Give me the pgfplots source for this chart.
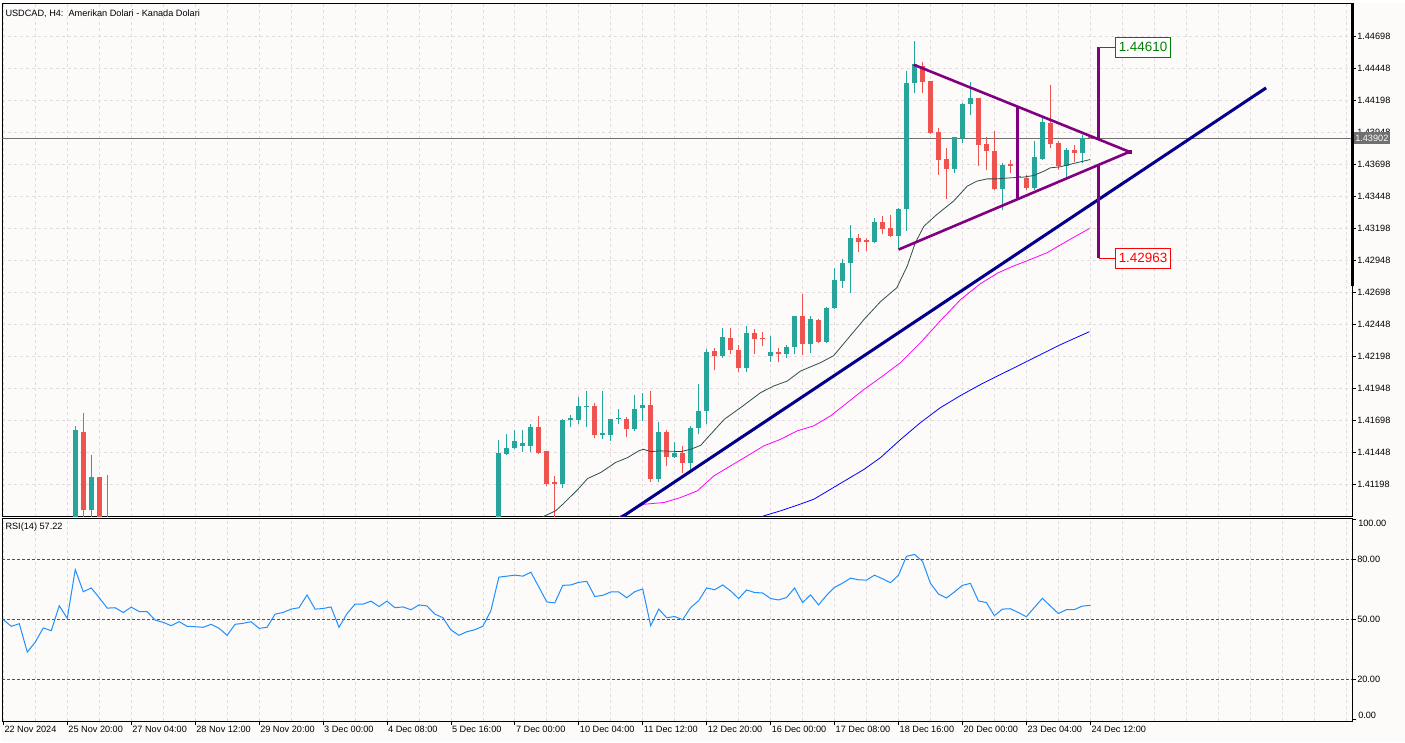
\documentclass[border=0pt]{standalone}
\usepackage{pgfplots}
\pgfplotsset{compat=1.18}
\usepackage{pgfplotstable}
\usepackage{fontspec}
\setmainfont{Liberation Sans}
\definecolor{bg}{RGB}{253,250,250}
\definecolor{bull}{RGB}{38,166,154}
\definecolor{bear}{RGB}{239,83,80}
\definecolor{gridc}{RGB}{226,220,220}
\definecolor{maA}{RGB}{47,79,79}
\definecolor{maB}{RGB}{255,0,255}
\definecolor{maC}{RGB}{0,0,255}
\definecolor{trend}{RGB}{0,0,139}
\definecolor{tri}{RGB}{128,0,128}
\definecolor{rsic}{RGB}{30,144,255}
\definecolor{levelred}{RGB}{200,30,30}
\definecolor{tgtg}{RGB}{0,128,0}
\definecolor{tgtr}{RGB}{255,0,0}
\definecolor{pgray}{RGB}{112,112,112}
\newcommand{\lbl}{\fontsize{9.2}{11}\selectfont}

\pgfplotstableread{
i o h l c
9 1.40700 1.41653 1.40800 1.41621
11 1.40998 1.41432 1.40800 1.41253
62 1.40800 1.41549 1.40800 1.41442
63 1.41434 1.41596 1.41426 1.41487
64 1.41481 1.41627 1.41476 1.41541
65 1.41502 1.41627 1.41455 1.41520
66 1.41497 1.41674 1.41455 1.41650
70 1.41200 1.41713 1.41169 1.41705
71 1.41699 1.41744 1.41645 1.41715
72 1.41705 1.41884 1.41668 1.41814
73 1.41805 1.41931 1.41650 1.41814
75 1.41582 1.41931 1.41551 1.41603
76 1.41588 1.41713 1.41536 1.41713
77 1.41706 1.41791 1.41668 1.41715
79 1.41629 1.41900 1.41613 1.41791
80 1.41793 1.41915 1.41691 1.41822
82 1.41239 1.41689 1.41214 1.41611
84 1.41411 1.41531 1.41406 1.41448
86 1.41370 1.41656 1.41305 1.41642
87 1.41642 1.41985 1.41590 1.41775
88 1.41775 1.42258 1.41668 1.42235
90 1.42198 1.42422 1.42183 1.42352
93 1.42105 1.42437 1.42073 1.42383
96 1.42198 1.42360 1.42151 1.42235
98 1.42214 1.42289 1.42183 1.42274
99 1.42269 1.42515 1.42214 1.42515
101 1.42292 1.42513 1.42227 1.42492
103 1.42310 1.42586 1.42299 1.42578
104 1.42578 1.42890 1.42570 1.42791
105 1.42788 1.42960 1.42734 1.42929
106 1.42929 1.43225 1.42689 1.43123
109 1.43087 1.43279 1.43079 1.43248
112 1.43139 1.43357 1.43030 1.43349
113 1.43344 1.44425 1.43180 1.44332
114 1.44328 1.44659 1.44254 1.44480
119 1.43661 1.43908 1.43630 1.43908
120 1.43900 1.44176 1.43859 1.44170
121 1.44170 1.44337 1.44085 1.44215
125 1.43505 1.43708 1.43339 1.43692
127 1.43594 1.43617 1.43580 1.43604
129 1.43513 1.43877 1.43500 1.43755
130 1.43739 1.44072 1.43734 1.44030
133 1.43682 1.43825 1.43599 1.43807
135 1.43786 1.43929 1.43708 1.43903
}\bulltab

\pgfplotstableread{
i o h l c
10 1.41611 1.41759 1.40800 1.40998
12 1.41253 1.41253 1.40800 1.40850
13 1.40900 1.41271 1.40800 1.40850
67 1.41650 1.41736 1.41440 1.41445
68 1.41463 1.41463 1.41190 1.41206
69 1.41214 1.41268 1.40850 1.41200
74 1.41814 1.41837 1.41559 1.41582
78 1.41713 1.41723 1.41567 1.41629
81 1.41822 1.41931 1.41219 1.41239
83 1.41611 1.41627 1.41344 1.41411
85 1.41448 1.41500 1.41286 1.41370
89 1.42243 1.42266 1.42089 1.42198
91 1.42344 1.42422 1.42214 1.42245
92 1.42250 1.42289 1.42073 1.42105
94 1.42383 1.42414 1.42214 1.42331
95 1.42339 1.42391 1.42276 1.42331
97 1.42235 1.42266 1.42151 1.42214
100 1.42513 1.42681 1.42206 1.42292
102 1.42482 1.42492 1.42299 1.42310
107 1.43123 1.43149 1.43014 1.43092
108 1.43108 1.43123 1.43022 1.43087
110 1.43248 1.43295 1.43149 1.43194
111 1.43201 1.43303 1.43131 1.43139
115 1.44467 1.44493 1.44254 1.44339
116 1.44345 1.44345 1.43930 1.43942
117 1.43950 1.43981 1.43617 1.43734
118 1.43739 1.43820 1.43422 1.43661
122 1.44215 1.44215 1.43687 1.43851
123 1.43856 1.43908 1.43651 1.43804
124 1.43804 1.43955 1.43500 1.43505
126 1.43695 1.43734 1.43630 1.43687
128 1.43591 1.43617 1.43500 1.43513
131 1.44020 1.44318 1.43825 1.43856
132 1.43864 1.43877 1.43651 1.43682
134 1.43807 1.43846 1.43714 1.43786
136 1.43910 1.43929 1.43895 1.43902
}\beartab

\pgfplotstableread{
i r
0 50.0
1 46.7
2 48.0
3 33.8
4 38.8
5 45.9
6 44.5
7 57.0
8 50.7
9 75.1
10 64.0
11 65.9
12 61.0
13 55.8
14 56.0
15 53.6
16 56.3
17 54.1
18 54.0
19 49.8
20 48.7
21 47.0
22 49.0
23 46.7
24 46.5
25 46.2
26 47.7
27 45.7
28 42.2
29 47.7
30 48.2
31 49.0
32 45.7
33 46.2
34 52.8
35 53.6
36 55.3
37 56.0
38 62.4
39 55.3
40 55.6
41 56.4
42 46.2
43 53.0
44 57.8
45 57.8
46 59.3
47 56.6
48 59.3
49 56.0
50 56.4
51 55.0
52 57.4
53 56.9
54 52.8
55 51.0
56 44.9
57 42.2
58 44.0
59 45.0
60 46.7
61 54.5
62 71.3
63 71.8
64 72.3
65 71.8
66 73.8
67 66.4
68 58.9
69 58.4
70 67.2
71 67.4
72 68.7
73 69.2
74 61.6
75 62.2
76 63.9
77 63.9
78 61.0
79 64.0
80 65.4
81 47.0
82 55.3
83 51.0
84 51.6
85 50.0
86 56.1
87 59.5
88 65.9
89 65.0
90 67.4
91 64.4
92 60.6
93 64.9
94 63.6
95 63.4
96 60.6
97 59.9
98 61.1
99 65.9
100 58.6
101 62.4
102 57.4
103 62.2
104 66.2
105 68.3
106 70.8
107 70.0
108 69.8
109 72.3
110 70.5
111 68.5
112 72.3
113 81.7
114 82.7
115 79.3
116 68.2
117 62.9
118 60.9
119 63.9
120 67.2
121 68.2
122 59.4
123 58.6
124 52.0
125 55.3
126 55.5
127 53.6
128 51.5
129 56.1
130 60.7
131 56.9
132 53.1
133 55.0
134 55.1
135 56.8
136 57.2
}\rsitab

\pgfplotsset{
  candlewick/.style={draw=none, mark=none, forget plot,
    error bars/.cd, y dir=plus, y explicit, error mark=none,
    error bar style={draw=#1, line width=1bp}},
  candlebody/.style={draw=none, mark=none, forget plot,
    error bars/.cd, y dir=plus, y explicit, error mark=none,
    error bar style={draw=#1, line width=5bp, line cap=butt}},
  gridsty/.style={gridc, dash pattern=on 3bp off 3bp, line width=0.7bp},
}

\begin{document}
\begin{tikzpicture}
\fill[bg] (0bp,0bp) rectangle (1405bp,740bp);

% ---------------- price panel ----------------
\begin{axis}[
  name=price,
  at={(1bp,226bp)}, anchor=south west, scale only axis,
  width=1351bp, height=513bp,
  xmin=-0.125, xmax=168.75,
  ymin=1.409486, ymax=1.449474,
  axis line style={black, line width=1bp},
  clip mode=individual,
  xtick={0,4,...,168}, xticklabels={}, major x tick style={draw=none},
  xmajorgrids, ymajorgrids,
  major grid style={gridsty},
  ytick={1.41198,1.41448,1.41698,1.41948,1.42198,1.42448,1.42698,1.42948,1.43198,1.43448,1.43698,1.43948,1.44198,1.44448,1.44698},
  yticklabels={1.41198,1.41448,1.41698,1.41948,1.42198,1.42448,1.42698,1.42948,1.43198,1.43448,1.43698,1.43948,1.44198,1.44448,1.44698},
  yticklabel pos=right, ytick pos=right,
  tick align=outside, major tick length=4bp,
  major y tick style={black, line width=0.8bp},
  yticklabel style={font=\lbl, anchor=west, inner sep=1bp},
]
% current price line
\addplot[pgray, line width=0.9bp, forget plot] coordinates {(-0.125,1.43902) (168.75,1.43902)};
% candles
\addplot[candlewick=bull] table[x=i, y=l, y error expr=\thisrow{h}-\thisrow{l}] {\bulltab};
\addplot[candlewick=bear] table[x=i, y=l, y error expr=\thisrow{h}-\thisrow{l}] {\beartab};
\addplot[candlebody=bull] table[x=i, y=o, y error expr={max(\thisrow{c}-\thisrow{o},0.00009)}] {\bulltab};
\addplot[candlebody=bear] table[x=i, y=c, y error expr={max(\thisrow{o}-\thisrow{c},0.00009)}] {\beartab};
% moving averages
\addplot[maA, line width=0.8bp] coordinates {(66,1.40860) (67.6,1.40949) (69.1,1.40993) (70,1.41044) (71.9,1.41161) (73.1,1.41245) (74.75,1.41292) (76.6,1.41370) (78.1,1.41408) (79.5,1.41461) (80.1,1.41473) (81,1.41455) (82.25,1.41461) (84.75,1.41455) (86,1.41473) (87.25,1.41504) (88.5,1.41590) (90.2,1.41707) (92.25,1.41798) (94.75,1.41915) (96.4,1.41967) (98.1,1.42006) (99.75,1.42084) (102.25,1.42149) (103.9,1.42204) (105.6,1.42331) (107.7,1.42487) (109.75,1.42625) (111.8,1.42734) (113.1,1.42903) (114.1,1.43084) (115.2,1.43215) (116.8,1.43305) (118.9,1.43410) (120.6,1.43526) (121.8,1.43565) (123.1,1.43583) (124.3,1.43583) (126,1.43591) (127.7,1.43597) (128.9,1.43609) (130.2,1.43643) (131,1.43669) (132.25,1.43677) (133.9,1.43703) (136,1.43734)};
\addplot[maB, line width=0.8bp] coordinates {(76,1.40880) (77.25,1.40954) (80.16,1.41044) (82.66,1.41058) (84.75,1.41097) (86.84,1.41149) (88.91,1.41266) (91,1.41344) (93.09,1.41422) (95.16,1.41500) (97.25,1.41551) (99.34,1.41617) (101.4,1.41656) (103.5,1.41734) (105.6,1.41837) (107.7,1.41941) (109.75,1.42032) (112.25,1.42149) (114.75,1.42305) (117.25,1.42476) (119.75,1.42640) (122.25,1.42765) (124.5,1.42851) (126.4,1.42903) (128.5,1.42954) (130.6,1.43007) (133.1,1.43098) (135.9,1.43196)};
\addplot[maC, line width=0.8bp] coordinates {(94,1.40900) (95.16,1.40954) (97.25,1.40993) (99.34,1.41037) (101.4,1.41083) (103.5,1.41161) (105.6,1.41239) (107.7,1.41317) (109.75,1.41408) (112.25,1.41549) (114.75,1.41681) (117.25,1.41798) (119.75,1.41892) (122.25,1.41978) (124.75,1.42056) (127.25,1.42133) (129.75,1.42211) (132.25,1.42289) (135.9,1.42391)};
% trend line
\addplot[trend, line width=3bp] coordinates {(75,1.40845) (158,1.44293)};
% triangle
\addplot[tri, line width=2.6bp] coordinates {(113.9,1.44474) (140.9,1.43794)};
\addplot[tri, line width=2.6bp] coordinates {(112.04,1.43032) (140.9,1.43794)};
\addplot[tri, line width=2.6bp] coordinates {(126.9,1.44145) (126.9,1.43430)};
\addplot[tri, only marks, mark=square*, mark size=1.8bp] coordinates {(140.9,1.43794)};
% projection
\addplot[tri, line width=2.6bp] coordinates {(137.04,1.44610) (137.04,1.43893)};
\addplot[tri, line width=2.6bp] coordinates {(137.04,1.43691) (137.04,1.42963)};
\addplot[tgtg, line width=1.3bp] coordinates {(137.04,1.44610) (139.125,1.44610)};
\addplot[tgtr, line width=1.3bp] coordinates {(137.04,1.42963) (139.125,1.42963)};
\node[draw=tgtg, line width=1bp, fill=white, text=tgtg, anchor=west, inner xsep=3bp, inner ysep=0bp, minimum height=20bp, font=\fontsize{13.5}{15}\selectfont] at (axis cs:139.125,1.44610) {1.44610};
\node[draw=tgtr, line width=1bp, fill=white, text=tgtr, anchor=west, inner xsep=3bp, inner ysep=0bp, minimum height=20bp, font=\fontsize{13.5}{15}\selectfont] at (axis cs:139.125,1.42963) {1.42963};
\coordinate (cp) at (axis cs:168.75,1.43902);
\end{axis}
\node[fill=pgray, text=white, anchor=west, inner xsep=1.5bp, inner ysep=0bp, minimum height=12bp, font=\lbl] at ([xshift=1.5bp]cp) {1.43902};
\draw[black, line width=3bp] (1352bp,740bp) -- (1352bp,457bp);
\node[anchor=west, font=\lbl, inner sep=0bp] at (4bp,729bp) {USDCAD, H4:\ \ Amerikan Dolari - Kanada Dolari};

% ---------------- RSI panel ----------------
\begin{axis}[
  name=rsi,
  at={(1bp,21bp)}, anchor=south west, scale only axis,
  width=1351bp, height=203bp,
  xmin=-0.125, xmax=168.75,
  ymin=-0.85, ymax=100.65,
  axis line style={black, line width=1bp},
  clip mode=individual,
  xtick={0,8,...,136},
  xticklabels={22 Nov 2024, 25 Nov 20:00, 27 Nov 04:00, 28 Nov 12:00, 29 Nov 20:00, 3 Dec 00:00, 4 Dec 08:00, 5 Dec 16:00, 7 Dec 00:00, 10 Dec 04:00, 11 Dec 12:00, 12 Dec 20:00, 16 Dec 00:00, 17 Dec 08:00, 18 Dec 16:00, 20 Dec 00:00, 23 Dec 04:00, 24 Dec 12:00},
  minor xtick={4,12,20,28,36,44,52,60,68,76,84,92,100,108,116,124,132,140,144,148,152,156,160,164,168},
  xmajorgrids, xminorgrids,
  major grid style={gridsty}, minor grid style={gridsty},
  minor tick length=0bp,
  xtick pos=bottom, ytick pos=right,
  tick align=outside, major tick length=4bp,
  major tick style={black, line width=0.8bp},
  xticklabel style={font=\lbl, anchor=north west, inner sep=0bp, xshift=1bp, yshift=-1bp},
  ytick={20,50,80}, yticklabels={20.00,50.00,80.00},
  extra y ticks={0,100}, extra y tick labels={},
  yticklabel pos=right,
  yticklabel style={font=\lbl, anchor=west, inner sep=1bp},
]
\addplot[levelred, line width=1.2bp, dash pattern=on 3bp off 2bp] coordinates {(-0.125,80) (168.75,80)};
\addplot[levelred, line width=1.2bp, dash pattern=on 3bp off 2bp] coordinates {(-0.125,50) (168.75,50)};
\addplot[levelred, line width=1.2bp, dash pattern=on 3bp off 2bp] coordinates {(-0.125,20) (168.75,20)};
\addplot[rsic, line width=1bp] table[x=i, y=r] {\rsitab};
\node[anchor=west, font=\lbl, inner sep=1bp] at ([xshift=5bp]axis cs:168.75,98.15) {100.00};
\node[anchor=west, font=\lbl, inner sep=1bp] at ([xshift=5bp]axis cs:168.75,2.15) {0.00};
\end{axis}
\node[anchor=west, font=\lbl, inner sep=0bp] at (4bp,215bp) {RSI(14) 57.22};
\end{tikzpicture}
\end{document}
